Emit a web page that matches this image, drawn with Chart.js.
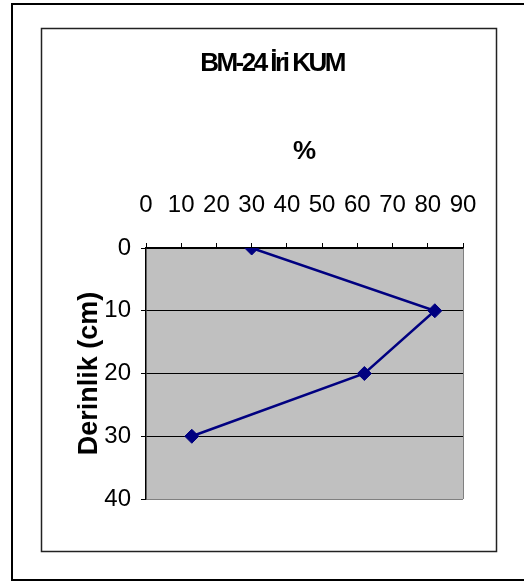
<!DOCTYPE html>
<html>
<head>
<meta charset="utf-8">
<script src="https://cdn.jsdelivr.net/npm/chart.js@4/dist/chart.umd.min.js"></script>
<style>
  html, body { margin: 0; padding: 0; background: #fff; }
  canvas { display: block; }
</style>
</head>
<body>
<canvas id="chart" width="524" height="585"></canvas>
<script>
// --- DATA ---
const chartTitle = 'BM-24 İri KUM';
const xTitle = '%';
const yTitle = 'Derinlik (cm)';
const depthCm = [0, 10, 20, 30];
const percentValues = [30, 82, 62, 13];
const xTicks = [0, 10, 20, 30, 40, 50, 60, 70, 80, 90];
const yTicks = [0, 10, 20, 30, 40];

const FONT = "'Liberation Sans', Arial, sans-serif";

// frames, grey plot area and the condensed title
const decor = {
  id: 'decor',
  beforeDraw(chart) {
    const { ctx, chartArea: a } = chart;
    ctx.save();
    ctx.fillStyle = '#fff';
    ctx.fillRect(0, 0, chart.width, chart.height);
    ctx.strokeStyle = '#000';
    ctx.lineWidth = 2;
    ctx.strokeRect(12, 4, 540, 576);
    ctx.lineWidth = 1.5;
    ctx.strokeStyle = '#222';
    ctx.strokeRect(41.5, 28.5, 455, 523);
    ctx.fillStyle = '#c0c0c0';
    ctx.fillRect(a.left, a.top, a.right - a.left, a.bottom - a.top);
    ctx.restore();
  },
  afterDraw(chart) {
    const ctx = chart.ctx;
    ctx.save();
    ctx.font = 'bold 26px ' + FONT;
    ctx.letterSpacing = '-2.5px';
    ctx.fillStyle = '#000';
    ctx.textAlign = 'center';
    ctx.textBaseline = 'alphabetic';
    ctx.fillText(chartTitle, 272, 71);
    ctx.restore();
  }
};

new Chart(document.getElementById('chart'), {
  type: 'scatter',
  data: {
    datasets: [{
      data: percentValues.map((v, i) => ({ x: v, y: depthCm[i] })),
      showLine: true,
      borderColor: '#000080',
      borderWidth: 2.5,
      backgroundColor: '#000080',
      pointStyle: 'rectRot',
      pointRadius: 7,
      pointBorderWidth: 1,
      pointBorderColor: '#000080'
    }]
  },
  options: {
    responsive: false,
    animation: false,
    devicePixelRatio: 1,
    layout: { padding: { left: 0, top: 0, right: 61, bottom: 86 } },
    plugins: { legend: { display: false }, title: { display: false }, tooltip: { enabled: false } },
    scales: {
      x: {
        type: 'linear', position: 'top', min: 0, max: 90,
        afterBuildTicks: s => { s.ticks = xTicks.map(v => ({ value: v })); },
        afterFit: s => { s.height = 248; },
        ticks: { color: '#000', font: { family: FONT, size: 24 }, padding: 23, maxRotation: 0, autoSkip: false },
        grid: {
          drawOnChartArea: true, tickLength: 5, lineWidth: 1,
          color: c => c.tick && c.tick.value === 90 ? '#808080' : 'rgba(0,0,0,0)',
          tickColor: '#000'
        },
        border: { display: true, color: '#000', width: 1.5 },
        title: { display: true, text: xTitle, color: '#000', font: { family: FONT, size: 26, weight: 'bold' }, padding: { top: 136, bottom: 0 } }
      },
      y: {
        type: 'linear', position: 'left', min: 0, max: 40, reverse: true,
        afterBuildTicks: s => { s.ticks = yTicks.map(v => ({ value: v })); },
        afterFit: s => { s.width = 146; },
        ticks: { color: '#000', font: { family: FONT, size: 24 }, padding: 10, autoSkip: false },
        grid: {
          tickLength: 5, lineWidth: 1,
          color: c => c.tick && c.tick.value === 40 ? '#808080' : '#000',
          tickColor: '#000'
        },
        border: { display: true, color: '#000', width: 1.5 },
        title: { display: true, text: yTitle, color: '#000', font: { family: FONT, size: 27, weight: 'bold' }, padding: { top: 73, bottom: 0 } }
      }
    }
  },
  plugins: [decor]
});
</script>
</body>
</html>
